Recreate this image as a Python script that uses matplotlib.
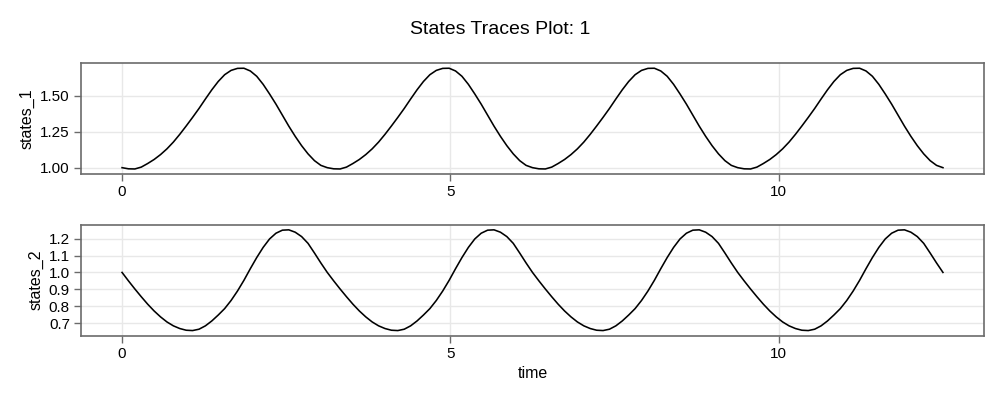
import matplotlib
matplotlib.use("Agg")
import matplotlib.pyplot as plt
import numpy as np

plt.rcParams["font.family"] = ["Liberation Sans", "DejaVu Sans"]

# time grid of the solver output (0 .. 12.5, 129 saved steps)
time = np.linspace(0.0, 12.5, 129)

states_1 = [
    1.000, 0.992, 0.991, 1.004, 1.029, 1.057, 1.091, 1.131, 1.178, 1.232, 1.290, 1.350, 1.412, 1.478, 1.542, 1.600,
    1.647, 1.677, 1.691, 1.692, 1.673, 1.636, 1.580, 1.513, 1.442, 1.366, 1.289, 1.218, 1.153, 1.096, 1.049, 1.016,
    1.000, 0.992, 0.991, 1.004, 1.029, 1.057, 1.091, 1.131, 1.178, 1.232, 1.290, 1.350, 1.412, 1.478, 1.542, 1.600,
    1.647, 1.677, 1.691, 1.692, 1.673, 1.636, 1.580, 1.513, 1.442, 1.366, 1.289, 1.218, 1.153, 1.096, 1.049, 1.016,
    1.000, 0.992, 0.991, 1.004, 1.029, 1.057, 1.091, 1.131, 1.178, 1.232, 1.290, 1.350, 1.412, 1.478, 1.542, 1.600,
    1.647, 1.677, 1.691, 1.692, 1.673, 1.636, 1.580, 1.513, 1.442, 1.366, 1.289, 1.218, 1.153, 1.096, 1.049, 1.016,
    1.000, 0.992, 0.991, 1.004, 1.029, 1.057, 1.091, 1.131, 1.178, 1.232, 1.290, 1.350, 1.412, 1.478, 1.542, 1.600,
    1.647, 1.677, 1.691, 1.692, 1.673, 1.636, 1.580, 1.513, 1.442, 1.366, 1.289, 1.218, 1.153, 1.096, 1.049, 1.016,
    1.000,
]
states_2 = [
    1.000, 0.950, 0.902, 0.856, 0.812, 0.772, 0.737, 0.707, 0.684, 0.668, 0.658, 0.656, 0.664, 0.684, 0.713, 0.748,
    0.786, 0.834, 0.890, 0.953, 1.022, 1.088, 1.148, 1.198, 1.232, 1.250, 1.252, 1.238, 1.212, 1.172, 1.115, 1.056,
    1.000, 0.950, 0.902, 0.856, 0.812, 0.772, 0.737, 0.707, 0.684, 0.668, 0.658, 0.656, 0.664, 0.684, 0.713, 0.748,
    0.786, 0.834, 0.890, 0.953, 1.022, 1.088, 1.148, 1.198, 1.232, 1.250, 1.252, 1.238, 1.212, 1.172, 1.115, 1.056,
    1.000, 0.950, 0.902, 0.856, 0.812, 0.772, 0.737, 0.707, 0.684, 0.668, 0.658, 0.656, 0.664, 0.684, 0.713, 0.748,
    0.786, 0.834, 0.890, 0.953, 1.022, 1.088, 1.148, 1.198, 1.232, 1.250, 1.252, 1.238, 1.212, 1.172, 1.115, 1.056,
    1.000, 0.950, 0.902, 0.856, 0.812, 0.772, 0.737, 0.707, 0.684, 0.668, 0.658, 0.656, 0.664, 0.684, 0.713, 0.748,
    0.786, 0.834, 0.890, 0.953, 1.022, 1.088, 1.148, 1.198, 1.232, 1.250, 1.252, 1.238, 1.212, 1.172, 1.115, 1.056,
    1.000,
]
state_names = ["states_1", "states_2"]
y_ticks = [[1.00, 1.25, 1.50], [0.7, 0.8, 0.9, 1.0, 1.1, 1.2]]
y_fmt = ["{:.2f}", "{:.1f}"]
x_ticks = [0, 5, 10]

SPINE = "#6b6b6b"
GRID = "#e8e8e8"

fig = plt.figure(figsize=(10, 4), dpi=100)
boxes = [(0.081, 0.565, 0.903, 0.277), (0.081, 0.161, 0.903, 0.277)]

for k, (series, name) in enumerate(zip([states_1, states_2], state_names)):
    ax = fig.add_axes(boxes[k])
    ax.plot(time, series, color="black", linewidth=1.15)
    ax.margins(x=0.05, y=0.05)
    ax.set_xticks(x_ticks)
    ax.set_yticks(y_ticks[k])
    ax.set_yticklabels([y_fmt[k].format(v) for v in y_ticks[k]])
    ax.grid(True, color=GRID, linewidth=1.0)
    ax.set_axisbelow(True)
    for sp in ax.spines.values():
        sp.set_color(SPINE)
        sp.set_linewidth(1.2)
    ax.tick_params(axis="both", colors=SPINE, labelcolor="black",
                   labelsize=11, length=5, width=1, direction="out", pad=3)
    ax.set_ylabel(name, fontsize=11.5, labelpad=4)
    if k == 1:
        ax.set_xlabel("time", fontsize=11.5, labelpad=4)

fig.text(0.5, 0.925, "States Traces Plot: 1", ha="center", va="center",
         fontsize=14)

fig.savefig("out.png", dpi=100)
